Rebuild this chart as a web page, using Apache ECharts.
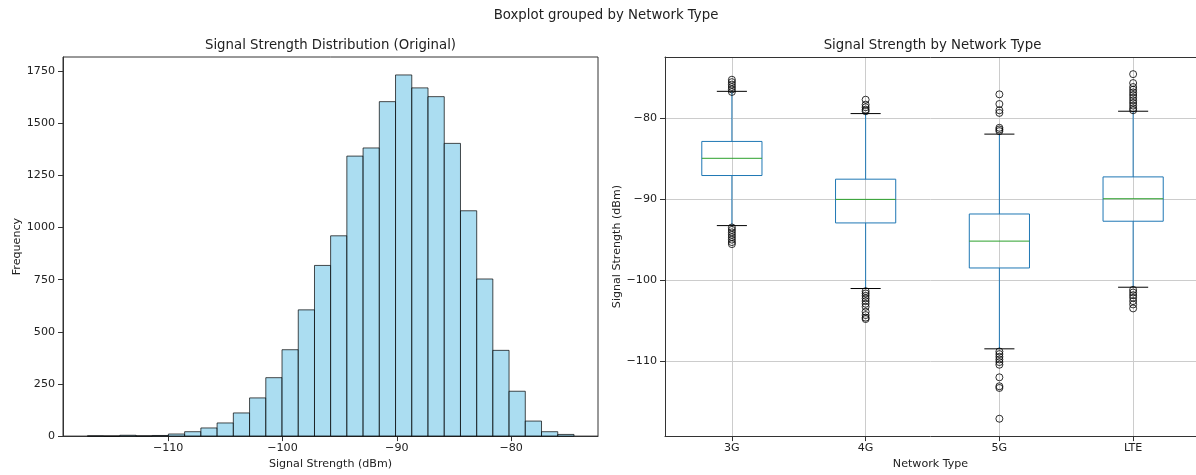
<!DOCTYPE html>
<html><head><meta charset="utf-8">
<script src="https://cdn.jsdelivr.net/npm/echarts@6/dist/echarts.min.js"></script>
<style>html,body{margin:0;padding:0;background:#fff;overflow:hidden}#c{width:1196px;height:475px}</style>
</head><body><div id="c"></div>
<script>
// ---- Histogram data ----
const binEdges = [-117.07,-115.65,-114.23,-112.81,-111.39,-109.98,-108.56,-107.14,-105.72,-104.30,
  -102.88,-101.46,-100.04,-98.62,-97.20,-95.79,-94.37,-92.95,-91.53,-90.11,
  -88.69,-87.27,-85.85,-84.43,-83.01,-81.60,-80.18,-78.76,-77.34,-75.92,-74.50];
const binCounts = [1,0,4,1,3,10,21,39,63,111,183,280,414,605,818,960,1342,1381,1603,1731,
  1669,1627,1403,1080,753,411,215,72,21,8];
const histTicksX = [-110,-100,-90,-80];
const histTicksY = [0,250,500,750,1000,1250,1500,1750];

// ---- Boxplot data ----
const networkTypes = ['3G','4G','5G','LTE'];
const whiskerLow = [-93.27,-101.02,-108.45,-100.86];
const quartile1 = [-87.10,-92.94,-98.49,-92.73];
const medians = [-84.98,-90.04,-95.18,-89.96];
const quartile3 = [-82.90,-87.55,-91.84,-87.27];
const whiskerHigh = [-76.73,-79.47,-82.00,-79.18];
const outliers3G = [-75.3,-75.6,-75.9,-76.2,-76.5,-76.8,-93.5,-93.8,-94.1,-94.4,-94.7,-95.0,-95.3,-95.55];
const outliers4G = [-77.76,-78.37,-78.69,-78.98,-79.18,-101.35,-101.63,-101.92,-102.24,-102.57,-102.9,-103.27,-103.88,-104.29,-104.61,-104.78];
const outliers5G = [-77.10,-78.29,-79.06,-79.39,-81.22,-81.43,-81.63,-108.78,-109.1,-109.43,-109.76,-110.08,-110.41,-111.96,-113.06,-113.27,-117.06];
const outliersLTE = [-74.61,-75.71,-76.2,-76.53,-76.86,-77.18,-77.51,-77.84,-78.16,-78.49,-78.82,-79.06,-101.18,-101.51,-101.84,-102.16,-102.57,-102.98,-103.47];
const boxTicksY = [-110,-100,-90,-80];
const boxPositions = [1,2,3,4];

const FONT = 'DejaVu Sans';
const TXT = '#222';
const FS = 11.1;
const TFS = 13.3;
const minus = v => String(v).replace('-', '\u2212');

const histData = binCounts.map((c, i) => [binEdges[i], binEdges[i+1], c]);
const boxData = networkTypes.map((n, i) => [boxPositions[i], whiskerLow[i], quartile1[i], medians[i], quartile3[i], whiskerHigh[i]]);
const outlierData = [];
[outliers3G, outliers4G, outliers5G, outliersLTE].forEach((arr, i) => arr.forEach(v => outlierData.push([boxPositions[i], v])));

const chart = echarts.init(document.getElementById('c'), null, {renderer: 'canvas'});

function axis(extra) {
  return Object.assign({
    axisLine: {show: true, lineStyle: {color: '#333', width: 1}},
    nameTextStyle: {color: TXT, fontFamily: FONT, fontSize: FS},
    nameLocation: 'middle'
  }, extra);
}
function ticks(vals) { return {show: true, length: 5, lineStyle: {color: '#333', width: 1}, customValues: vals}; }
function labels(vals, fmt, margin) { return {color: TXT, fontFamily: FONT, fontSize: FS, margin: margin, customValues: vals, formatter: fmt}; }
const titleFont = TFS + 'px "DejaVu Sans"';

const option = {
  animation: false,
  backgroundColor: '#fff',
  textStyle: {fontFamily: FONT},
  graphic: [
    {type: 'text', x: 606, y: 16, style: {text: 'Boxplot grouped by Network Type', fill: TXT, font: titleFont, align: 'center', verticalAlign: 'middle'}},
    {type: 'text', x: 330.5, y: 46, style: {text: 'Signal Strength Distribution (Original)', fill: TXT, font: titleFont, align: 'center', verticalAlign: 'middle'}},
    {type: 'text', x: 932.5, y: 46, style: {text: 'Signal Strength by Network Type', fill: TXT, font: titleFont, align: 'center', verticalAlign: 'middle'}}
  ],
  grid: [
    {left: 63, right: 598, top: 57, bottom: 37, show: true, borderColor: '#333', borderWidth: 1, backgroundColor: 'transparent'},
    {left: 665, right: 0, top: 57, bottom: 37, show: false}
  ],
  xAxis: [
    axis({
      type: 'value', gridIndex: 0, min: -119.2, max: -72.4,
      name: 'Signal Strength (dBm)', nameGap: 21,
      splitLine: {show: false},
      axisTick: ticks(histTicksX),
      axisLabel: labels(histTicksX, minus, 7)
    }),
    axis({
      type: 'value', gridIndex: 1, min: 0.5, max: 4.47,
      name: 'Network Type', nameGap: 21,
      splitLine: {show: true, lineStyle: {color: '#cccccc', width: 1}},
      axisTick: ticks(boxPositions),
      axisLabel: labels(boxPositions, v => networkTypes[boxPositions.indexOf(Math.round(v))], 7)
    }),
    {
      type: 'value', gridIndex: 1, position: 'top', min: 0.5, max: 4.47,
      axisLine: {show: true, lineStyle: {color: '#333', width: 1}},
      axisTick: {show: false}, axisLabel: {show: false}, splitLine: {show: false}
    }
  ],
  yAxis: [
    axis({
      type: 'value', gridIndex: 0, min: 0, max: 1817,
      name: 'Frequency', nameGap: 36,
      splitLine: {show: false},
      axisTick: ticks(histTicksY),
      axisLabel: labels(histTicksY, v => String(v), 8)
    }),
    axis({
      type: 'value', gridIndex: 1, min: -119.2, max: -72.5,
      name: 'Signal Strength (dBm)', nameGap: 42,
      splitLine: {show: true, lineStyle: {color: '#cccccc', width: 1}},
      axisTick: ticks(boxTicksY),
      axisLabel: labels(boxTicksY, minus, 8)
    })
  ],
  series: [
    {
      type: 'custom', xAxisIndex: 0, yAxisIndex: 0,
      encode: {x: [0, 1], y: 2},
      data: histData,
      renderItem: (params, api) => {
        const p0 = api.coord([api.value(0), api.value(2)]);
        const p1 = api.coord([api.value(1), 0]);
        return {type: 'rect', shape: {x: p0[0], y: p0[1], width: p1[0] - p0[0], height: p1[1] - p0[1]},
          style: {fill: 'rgba(135,206,235,0.7)', stroke: 'rgba(0,0,0,0.7)', lineWidth: 1}};
      }
    },
    {
      type: 'custom', xAxisIndex: 1, yAxisIndex: 1,
      encode: {x: 0, y: [1, 2, 3, 4, 5]},
      data: boxData,
      renderItem: (params, api) => {
        const x = api.value(0);
        const lo = api.value(1), q1 = api.value(2), md = api.value(3), q3 = api.value(4), hi = api.value(5);
        const hb = 0.225, hc = 0.1125;
        const c = (a, b) => api.coord([a, b]);
        const line = (a, b, col) => ({type: 'line', shape: {x1: a[0], y1: a[1], x2: b[0], y2: b[1]}, style: {stroke: col, lineWidth: 1}});
        const tl = c(x - hb, q3), br = c(x + hb, q1);
        const blue = '#1f77b4';
        return {type: 'group', children: [
          line(c(x, q3), c(x, hi), blue),
          line(c(x, q1), c(x, lo), blue),
          {type: 'rect', shape: {x: tl[0], y: tl[1], width: br[0] - tl[0], height: br[1] - tl[1]}, style: {fill: 'none', stroke: blue, lineWidth: 1}},
          line(c(x - hb, md), c(x + hb, md), '#2ca02c'),
          line(c(x - hc, hi), c(x + hc, hi), '#000'),
          line(c(x - hc, lo), c(x + hc, lo), '#000')
        ]};
      }
    },
    {
      type: 'scatter', xAxisIndex: 1, yAxisIndex: 1,
      data: outlierData, symbol: 'circle', symbolSize: 7,
      itemStyle: {color: 'rgba(0,0,0,0)', borderColor: '#000', borderWidth: 1}
    }
  ]
};
chart.setOption(option);
</script>
</body></html>
